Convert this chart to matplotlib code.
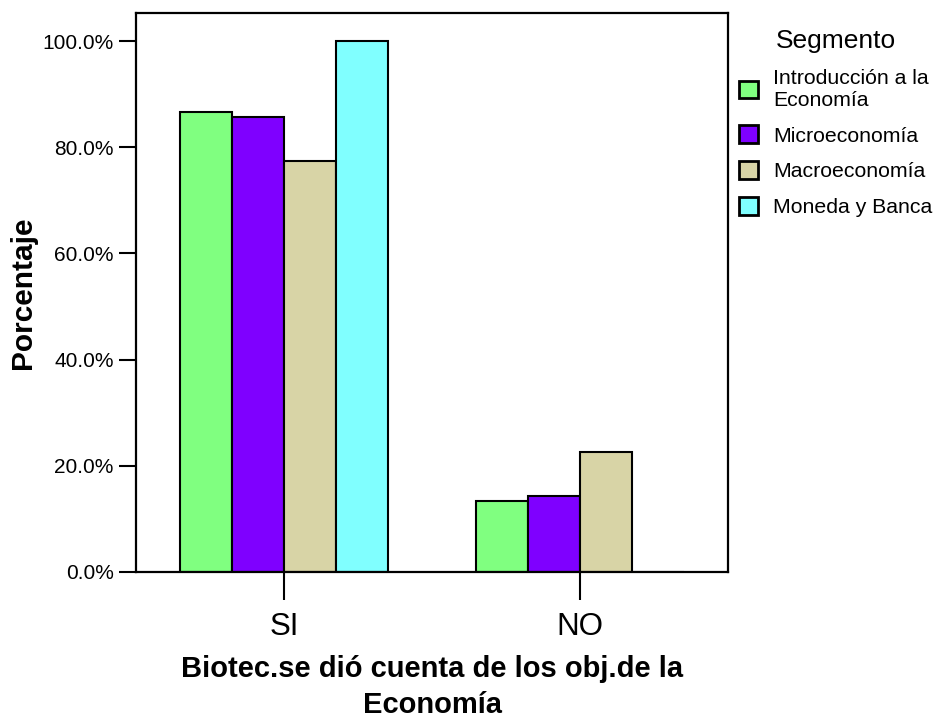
import matplotlib.pyplot as plt
import numpy as np

plt.rcParams['font.family'] = ['Liberation Sans', 'DejaVu Sans']

# data
categories = ["SI", "NO"]
segments = ["Introducción a la\nEconomía", "Microeconomía", "Macroeconomía", "Moneda y Banca"]
intro = [86.7, 13.3]
micro = [85.7, 14.3]
macro = [77.4, 22.6]
moneda = [100.0, 0.0]
colors = ["#80FF80", "#7F00FF", "#D8D4A6", "#80FFFF"]

series = [intro, micro, macro, moneda]

fig = plt.figure(figsize=(9.34, 7.19), dpi=100)
ax = fig.add_axes([0.1456, 0.2045, 0.634, 0.7774])

x = np.arange(len(categories))
w = 0.175
for i, vals in enumerate(series):
    ax.bar(x + (i - 1.5) * w, vals, w, color=colors[i], edgecolor="black",
           linewidth=1.5, label=segments[i], zorder=2)

ax.set_xlim(-0.5, 1.5)
ax.set_ylim(0, 105.3)
ax.set_xticks(x)
ax.set_xticklabels(categories, fontsize=22.5)
ax.set_yticks(np.arange(0, 101, 20))
ax.set_yticklabels(["{:.1f}%".format(v) for v in np.arange(0, 101, 20)], fontsize=15)
ax.tick_params(axis="x", length=20, width=1.5, pad=9)
ax.tick_params(axis="y", length=12, width=1.5, pad=4)
for s in ax.spines.values():
    s.set_linewidth(1.6)

ax.set_ylabel("Porcentaje", fontsize=21.5, fontweight="bold", labelpad=4)
ax.set_xlabel("Biotec.se dió cuenta de los obj.de la\nEconomía", fontsize=21,
              fontweight="bold", labelpad=9, linespacing=1.38)

leg = ax.legend(loc="upper left", bbox_to_anchor=(0.7825, 0.9715),
                bbox_transform=fig.transFigure, frameon=False, fontsize=15.3,
                title="Segmento", title_fontsize=19, handlelength=0.9,
                handleheight=0.9, handletextpad=0.7, labelspacing=0.74,
                borderaxespad=0)
leg._legend_box.align = "center"
for p in leg.get_patches():
    p.set_linewidth(2)

plt.savefig("out.png", dpi=100)
